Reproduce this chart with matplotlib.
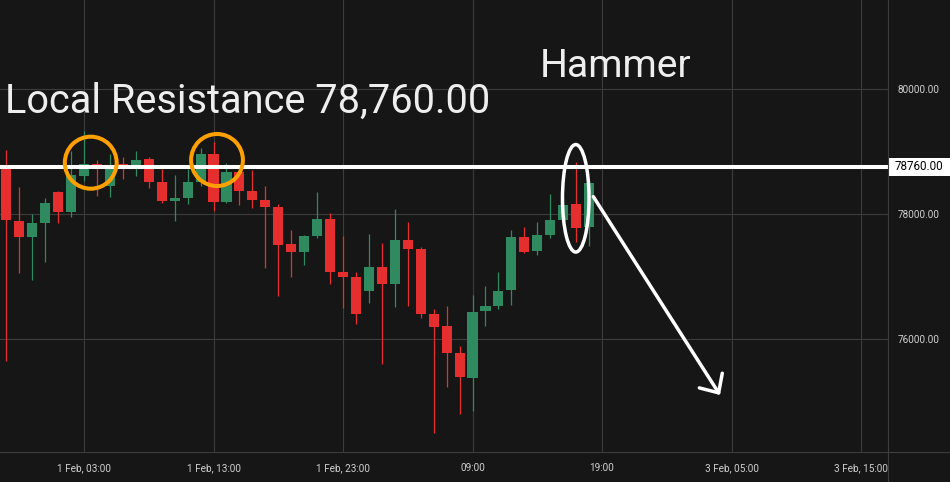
import matplotlib
matplotlib.use("Agg")
import matplotlib.pyplot as plt
from matplotlib.patches import Ellipse, Rectangle
from matplotlib.transforms import blended_transform_factory
from matplotlib.lines import Line2D

# hourly candles, 31 Jan 21:00 -> 2 Feb 18:00
opens  = [78745, 77893, 77642, 77866, 78357, 78042, 78618, 78805, 78458, 78810,
          78730, 78885, 78517, 78218, 78266, 78522, 78965, 78202, 78677, 78373,
          78229, 78117, 77525, 77402, 77658, 77925, 77077, 76997, 76778, 77157,
          76890, 77589, 77445, 76405, 76213, 75781, 75386, 76458, 76538, 76794,
          77637, 77418, 77674, 77914, 78165, 77802]
highs  = [79029, 78437, 78000, 78261, 78378, 79018, 79333, 78869, 78965, 78912,
          79013, 78917, 78725, 78629, 78720, 79066, 79162, 78821, 78709, 78709,
          78453, 78165, 77749, 77669, 78357, 78021, 77653, 77077, 77685, 77541,
          78085, 77877, 77477, 76485, 76533, 75893, 76709, 76853, 77077, 77749,
          77797, 77877, 78325, 78261, 78837, 78549]
lows   = [75658, 77066, 76954, 77242, 77866, 77962, 78538, 78298, 78282, 78565,
          78618, 78426, 78186, 77898, 78170, 78453, 78058, 78186, 78154, 78106,
          77146, 76698, 77002, 77189, 77626, 76885, 76506, 76250, 76586, 75610,
          76522, 76538, 76346, 74506, 75242, 74810, 74853, 76218, 76490, 76554,
          77386, 77354, 77626, 77893, 77557, 77498]
closes = [77909, 77642, 77861, 78181, 78042, 78629, 78805, 78784, 78736, 78784,
          78869, 78522, 78218, 78261, 78517, 78965, 78202, 78677, 78373, 78234,
          78117, 77509, 77402, 77653, 77925, 77082, 77002, 76410, 77157, 76890,
          77589, 77450, 76410, 76202, 75786, 75402, 76437, 76533, 76773, 77637,
          77402, 77669, 77909, 78149, 77786, 78501]

xtick_pos = [6, 16, 26, 36, 46, 56, 66]
xtick_labels = ['1 Feb, 03:00', '1 Feb, 13:00', '1 Feb, 23:00', '09:00',
                '19:00', '3 Feb, 05:00', '3 Feb, 15:00']
ytick_vals = [76000, 78000, 80000]
resistance = 78760

bg = '#161616'
grid_c = '#3c3c3c'
up_c = '#2f8a5f'
down_c = '#e52e2e'

fig = plt.figure(figsize=(9.5, 4.82), dpi=100, facecolor=bg)
ax = fig.add_axes([0, 30/482, 888/950, 452/482])
ax.set_facecolor(bg)

for i in range(len(opens)):
    o, h, l, c = opens[i], highs[i], lows[i], closes[i]
    col = up_c if c >= o else down_c
    ax.vlines(i, l, h, color=col, lw=0.9, zorder=2)
    ax.bar(i, max(abs(c - o), 16), bottom=min(o, c), width=0.78, color=col,
           linewidth=0, zorder=3)

ax.set_xlim(-0.486, 68.08)
ax.set_ylim(74197, 81429)

ax.set_xticks(xtick_pos)
ax.set_xticklabels(xtick_labels)
ax.set_yticks(ytick_vals)
ax.set_yticklabels(['%.2f' % v for v in ytick_vals])
ax.yaxis.tick_right()
ax.tick_params(axis='y', length=0, pad=7.2, labelsize=7.2, labelcolor='#d0d0d0')
ax.tick_params(axis='x', length=0, pad=8, labelsize=7.2, labelcolor='#d0d0d0')
for lab in ax.get_xticklabels() + ax.get_yticklabels():
    lab.set_family('Roboto')
ax.grid(True, color=grid_c, lw=0.8, zorder=0)
for s in ax.spines.values():
    s.set_visible(False)

# frame lines: bottom across whole width, right edge full height
fig.add_artist(Line2D([0, 1], [30/482, 30/482], color=grid_c, lw=0.8))
fig.add_artist(Line2D([888/950, 888/950], [0, 1], color=grid_c, lw=0.8))

# resistance line and price label
ax.axhline(resistance, color='white', lw=2.9, zorder=5)
trans = blended_transform_factory(ax.transAxes, ax.transData)
ax.add_patch(Rectangle((1.0, resistance - 139), 62/888, 278, transform=trans,
                       facecolor='white', edgecolor='none', clip_on=False, zorder=6))
ax.text(918.5/888, resistance, '%.2f' % resistance, transform=trans, ha='center',
        va='center', fontsize=8.4, family='Roboto', color='black', zorder=7)

# annotations
ax.add_patch(Ellipse((6.52, 78826), 4.0, 832, fill=False, edgecolor='#ffa000',
                     lw=2.9, zorder=6))
ax.add_patch(Ellipse((16.27, 78869), 4.0, 832, fill=False, edgecolor='#ffa000',
                     lw=2.9, zorder=6))
ax.add_patch(Ellipse((43.97, 78256), 2.05, 1720, fill=False, edgecolor='white',
                     lw=2.5, zorder=6))
ax.annotate('', xy=(55.11, 75109), xytext=(45.33, 78282),
            arrowprops=dict(arrowstyle='->,head_length=1.05,head_width=0.98',
                            color='white', lw=2.5, mutation_scale=10,
                            shrinkA=0, shrinkB=0), zorder=6)

fig.text(5/950, 1 - 112.7/482, 'Local Resistance 78,760.00', fontsize=28.6,
         family='Roboto', color='#eeeeee', va='baseline')
fig.text(540/950, 1 - 76.7/482, 'Hammer', fontsize=28.2, family='Roboto',
         color='#eeeeee', va='baseline')

fig.savefig('out.png', dpi=100, facecolor=bg)
